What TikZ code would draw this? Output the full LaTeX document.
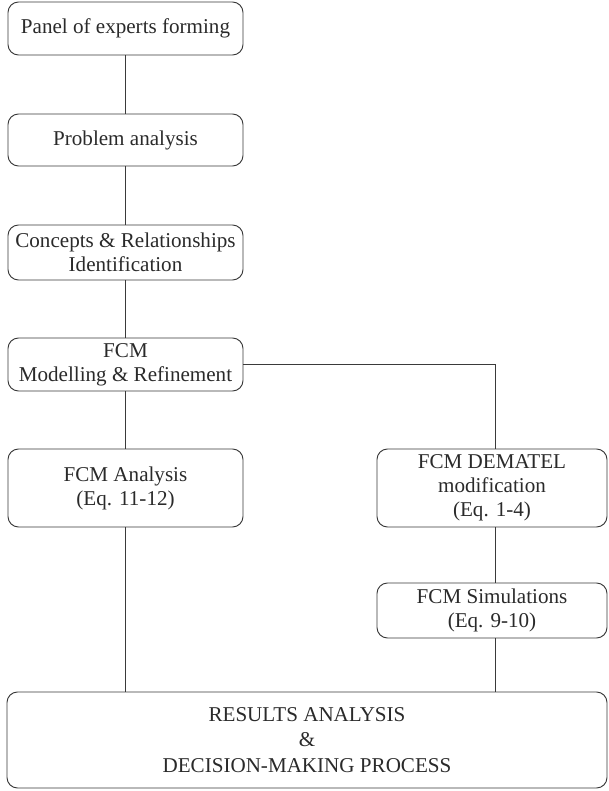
\documentclass[tikz,border=0pt]{standalone}
\usepackage{fontspec}
\setmainfont{Liberation Serif}
\usetikzlibrary{positioning}
\definecolor{inkline}{HTML}{3A3A3A}
\definecolor{inktext}{HTML}{2A2A2A}
\begin{document}
\begin{tikzpicture}[x=0.03cm,y=-0.03cm,font=\fontsize{18}{20.5}\selectfont,
  every node/.style={text=inktext},
  stagebox/.style={draw=inkline,line width=.8pt,rounded corners=9pt,align=center,inner sep=0pt,minimum width=7.05cm},
  link/.style={draw=inkline,line width=.8pt}]
\useasboundingbox (0,0) rectangle (608,791);
% Main column of stages.
\node[stagebox,minimum height=1.59cm] (panel) at (125.5,28.5) {Panel of experts forming};
\node[stagebox,minimum height=1.56cm] (problem) at (125.5,140) {Problem analysis};
\node[stagebox,minimum height=1.65cm] (concepts) at (125.5,252.5) {Concepts \& Relationships\\Identification};
\node[stagebox,minimum height=1.59cm] (modelling) at (125.5,364.5) {FCM\\Modelling \& Refinement};
\node[stagebox,minimum height=2.34cm] (analysis) at (125.5,488) {FCM Analysis\\(Eq. 11-12)};
% Right branch: DEMATEL and simulations.
\node[stagebox,minimum width=6.9cm,minimum height=2.34cm] (dematel) at (492,488) {FCM DEMATEL\\modification\\(Eq. 1-4)};
\node[stagebox,minimum width=6.9cm,minimum height=1.65cm] (simul) at (492,610.5) {FCM Simulations\\(Eq. 9-10)};
% Final stage spanning both branches.
\node[stagebox,minimum width=18cm,minimum height=2.88cm] (results) at (307,740) {RESULTS ANALYSIS\\[1pt]\&\\[1pt]DECISION-MAKING PROCESS};
\draw[link] (panel) -- (problem);
\draw[link] (problem) -- (concepts);
\draw[link] (concepts) -- (modelling);
\draw[link] (modelling) -- (analysis);
\draw[link] (modelling.east) -| ([xshift=0.09cm]dematel.north);
\draw[link] ([xshift=0.09cm]dematel.south) -- ([xshift=0.09cm]simul.north);
\draw[link] (analysis.south) -- (analysis.south |- results.north);
\draw[link] ([xshift=0.09cm]simul.south) -- ([xshift=0.09cm]simul.south |- results.north);
\end{tikzpicture}
\end{document}
